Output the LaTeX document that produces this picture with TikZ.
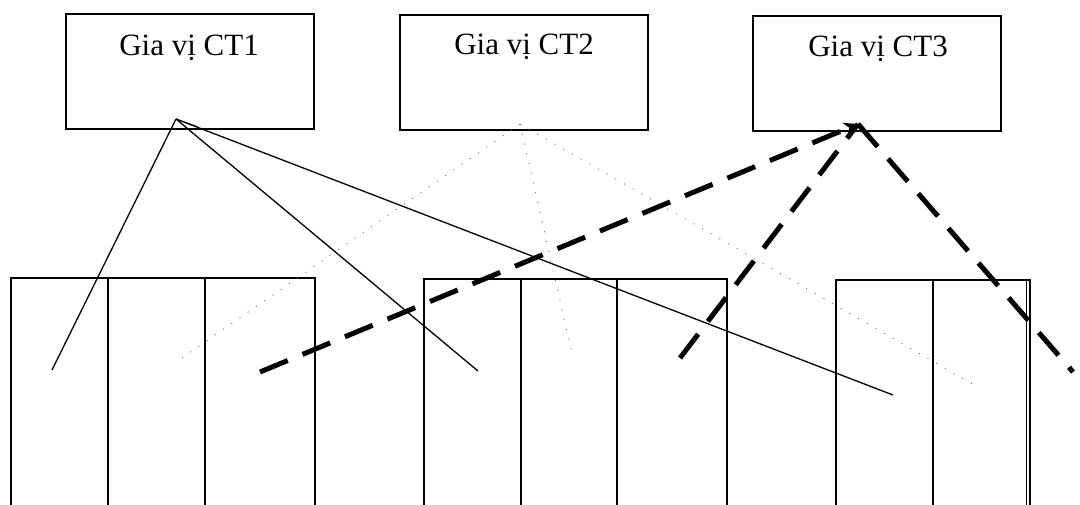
\documentclass[tikz,border=0pt]{standalone}
\usepackage{fontspec}
\setmainfont{Liberation Serif}
\usetikzlibrary{arrows.meta}
\begin{document}
\begin{tikzpicture}[x=1pt,y=-1pt,
  topbox/.style={draw, line width=1.6pt, minimum width=248pt, minimum height=115pt, inner sep=0pt, anchor=north west},
  col/.style={draw, line width=1.5pt, minimum height=260pt, inner sep=0pt, anchor=north west},
  lbl/.style={font=\fontsize{31}{36}\selectfont, inner sep=0pt, anchor=base},
  solidlink/.style={line width=1.3pt},
  thickdash/.style={line width=5pt, dash pattern=on 30pt off 16pt},
  dotlink/.style={line width=0.9pt, black!55, dash pattern=on 1pt off 9pt}
]
\useasboundingbox (0,0) rectangle (1080,504);
\clip (0,0) rectangle (1080,504);

% top boxes
\node[topbox] (ct1) at (65,13) {};
\node[topbox] (ct2) at (399,14) {};
\node[topbox] (ct3) at (752,15) {};
\node[lbl] (t1) at (189,55) {Gia vị CT1};
\node[lbl] (t2) at (524,54) {Gia vị CT2};
\node[lbl] (t3) at (878,56) {Gia vị CT3};

% bottom columns
\node[col, minimum width=97pt] (b11) at (10,277) {};
\node[col, minimum width=97pt] (b12) at (107,277) {};
\node[col, minimum width=110pt] (b13) at (204,277) {};
\node[col, minimum width=97pt] (b21) at (423,278) {};
\node[col, minimum width=96pt] (b22) at (520,278) {};
\node[col, minimum width=110pt] (b23) at (616,278) {};
\node[col, minimum width=97pt] (b31) at (835,279) {};
\node[col, minimum width=97pt] (b32) at (932,279) {};
\draw[line width=1.3pt] (b32.north east) ++(-4pt,0) coordinate (b32d) -- ++(0,-260pt);

% apex points
\coordinate (a1) at (176,119);
\coordinate (a2) at (520,124);
\coordinate (a3) at (858,124);

% end points
\coordinate (e11) at (52,370);
\coordinate (e12) at (478,371);
\coordinate (e13) at (893,395);
\coordinate (e21) at (176,362);
\coordinate (e22) at (573,358);
\coordinate (e23) at (976,386);
\coordinate (e31) at (260,372);
\coordinate (e32) at (680,358);
\coordinate (e33) at (1073,372);

% solid links from CT1
\draw[solidlink] (a1) -- (e11);
\draw[solidlink] (a1) -- (e12);
\draw[solidlink] (a1) -- (e13);
\draw[line width=0.9pt] (a1) -- (198,127) -- (186,123);

% dotted links from CT2
\draw[dotlink] (a2) -- (e21);
\draw[dotlink] (a2) -- (e22);
\draw[dotlink] (a2) -- (e23);

% thick dashed links to/from CT3
\draw[thickdash, -{Stealth[length=14pt,width=14pt]}] (e31) -- (a3);
\draw[thickdash] (e32) -- (a3);
\draw[thickdash] (a3) -- (e33);
\end{tikzpicture}
\end{document}
